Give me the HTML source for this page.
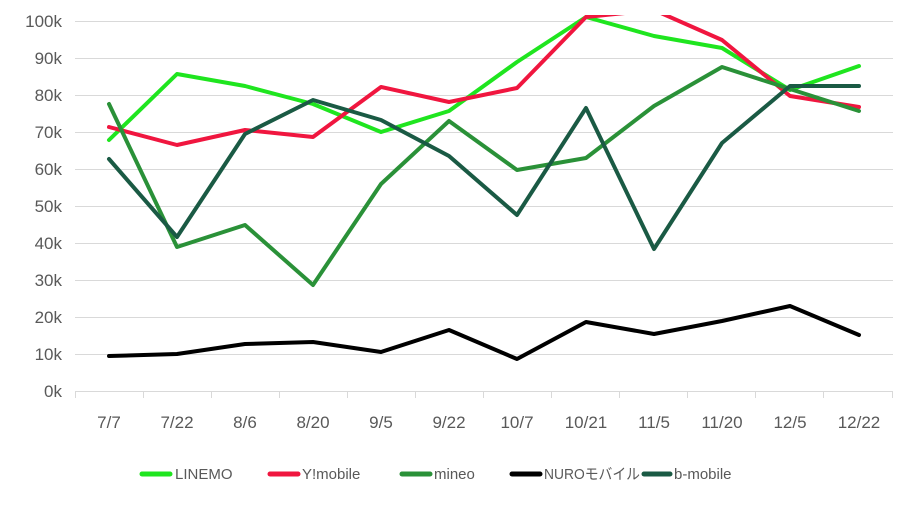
<!DOCTYPE html>
<html><head><meta charset="utf-8"><style>
html,body{margin:0;padding:0;background:#fff;}
svg text{font-family:"Liberation Sans","Noto Sans CJK JP",sans-serif;fill:#595959;}
</style></head><body>
<svg width="906" height="513" viewBox="0 0 906 513" xmlns="http://www.w3.org/2000/svg">
<g stroke="#d9d9d9" stroke-width="1">
<line x1="75" x2="893" y1="21.5" y2="21.5"/><line x1="75" x2="893" y1="58.5" y2="58.5"/>
<line x1="75" x2="893" y1="95.5" y2="95.5"/><line x1="75" x2="893" y1="132.5" y2="132.5"/>
<line x1="75" x2="893" y1="169.5" y2="169.5"/><line x1="75" x2="893" y1="206.5" y2="206.5"/>
<line x1="75" x2="893" y1="243.5" y2="243.5"/><line x1="75" x2="893" y1="280.5" y2="280.5"/>
<line x1="75" x2="893" y1="317.5" y2="317.5"/><line x1="75" x2="893" y1="354.5" y2="354.5"/>
<line x1="75" x2="893" y1="391.5" y2="391.5"/>
<line x1="75.5" x2="75.5" y1="391" y2="398"/><line x1="143.5" x2="143.5" y1="391" y2="398"/>
<line x1="211.5" x2="211.5" y1="391" y2="398"/><line x1="279.5" x2="279.5" y1="391" y2="398"/>
<line x1="347.5" x2="347.5" y1="391" y2="398"/><line x1="415.5" x2="415.5" y1="391" y2="398"/>
<line x1="483.5" x2="483.5" y1="391" y2="398"/><line x1="551.5" x2="551.5" y1="391" y2="398"/>
<line x1="619.5" x2="619.5" y1="391" y2="398"/><line x1="687.5" x2="687.5" y1="391" y2="398"/>
<line x1="755.5" x2="755.5" y1="391" y2="398"/><line x1="823.5" x2="823.5" y1="391" y2="398"/>
<line x1="892.5" x2="892.5" y1="391" y2="398"/>
</g>
<g font-size="17" text-anchor="end">
<text x="62" y="27">100k</text><text x="62" y="64">90k</text><text x="62" y="101">80k</text>
<text x="62" y="138">70k</text><text x="62" y="175">60k</text><text x="62" y="212">50k</text>
<text x="62" y="249">40k</text><text x="62" y="286">30k</text><text x="62" y="323">20k</text>
<text x="62" y="360">10k</text><text x="62" y="397">0k</text>
</g>
<g font-size="17" text-anchor="middle">
<text x="109" y="428">7/7</text><text x="177" y="428">7/22</text><text x="245" y="428">8/6</text>
<text x="313" y="428">8/20</text><text x="381" y="428">9/5</text><text x="449" y="428">9/22</text>
<text x="517" y="428">10/7</text><text x="586" y="428">10/21</text><text x="654" y="428">11/5</text>
<text x="722" y="428">11/20</text><text x="790" y="428">12/5</text><text x="859" y="428">12/22</text>
</g>
<defs><clipPath id="c"><rect x="0" y="15" width="906" height="376"/></clipPath></defs>
<g fill="none" stroke-width="4" stroke-linejoin="round" stroke-linecap="round" clip-path="url(#c)">
<polyline stroke="#1fe51f" points="109,140 177,74 245,86 313,104 381,132 449,111 517,62 586,17 654,36 722,48 790,90 859,66"/>
<polyline stroke="#f0163f" points="109,127 177,145 245,130 313,137 381,87 449,102 517,88 586,17 654,10 722,40 790,96 859,107"/>
<polyline stroke="#2a9138" points="109,104 177,247 245,225 313,285 381,184 449,121 517,170 586,158 654,106 722,67 790,89 859,111"/>
<polyline stroke="#000" points="109,356 177,354 245,344 313,342 381,352 449,330 517,359 586,322 654,334 722,321 790,306 859,335"/>
<polyline stroke="#1a5a44" points="109,159 177,237 245,134 313,100 381,120 449,156 517,215 586,108 654,249 722,143 790,86 859,86"/>
</g>
<g stroke-width="5" stroke-linecap="round">
<line x1="142" x2="170" y1="474" y2="474" stroke="#1fe51f"/>
<line x1="270" x2="298" y1="474" y2="474" stroke="#f0163f"/>
<line x1="402" x2="430" y1="474" y2="474" stroke="#2a9138"/>
<line x1="512" x2="540" y1="474" y2="474" stroke="#000"/>
<line x1="644" x2="670" y1="474" y2="474" stroke="#1a5a44"/>
</g>
<g font-size="15">
<text x="175" y="479">LINEMO</text><text x="302" y="479">Y!mobile</text>
<text x="434" y="479">mineo</text><text x="544" y="479" textLength="96" lengthAdjust="spacingAndGlyphs">NUROモバイル</text>
<text x="674" y="479">b-mobile</text>
</g>
</svg>
</body></html>
